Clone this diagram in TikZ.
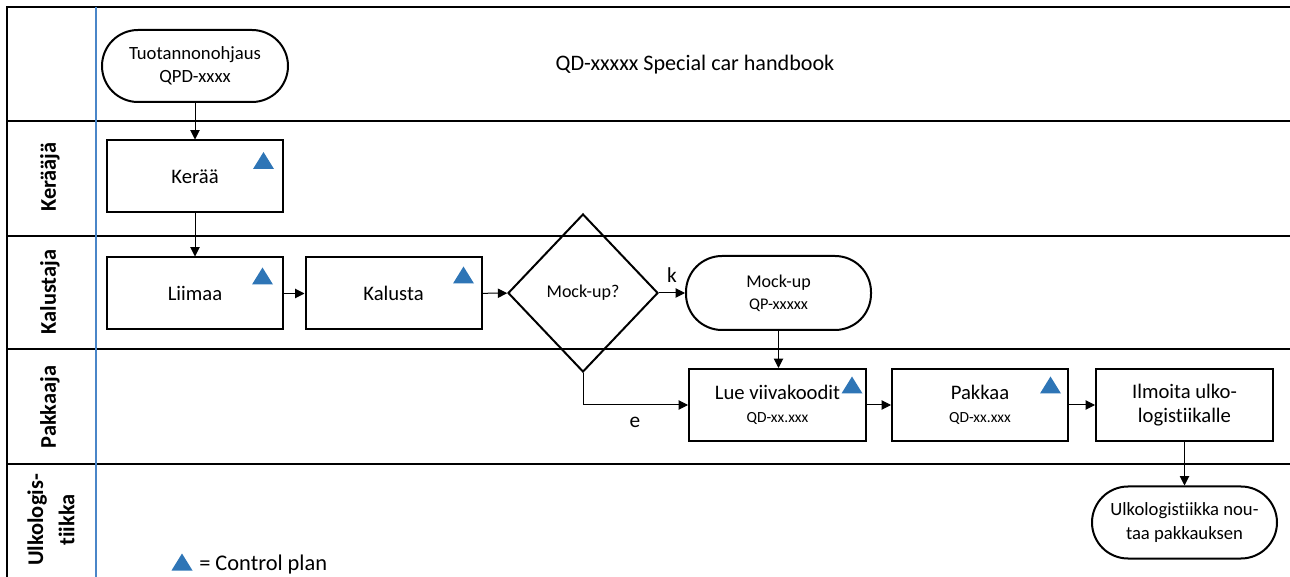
\documentclass[tikz,border=0pt]{standalone}
\usepackage{fontspec}
\setmainfont{Carlito}[Ligatures=NoCommon]
\usetikzlibrary{arrows.meta,shapes.geometric}
\definecolor{cpblue}{HTML}{2E75B6}
\definecolor{laneblue}{HTML}{4A86C8}
\newcommand{\fs}[1]{\fontsize{#1}{1.2\dimexpr#1pt\relax}\selectfont}
\begin{document}
\begin{tikzpicture}[x=0.75pt,y=-0.75pt,
  lane/.style={line width=1.8pt},
  box/.style={draw, line width=1.5pt, minimum width=132pt, minimum height=54pt, align=center, inner sep=0pt, font=\fs{15.5}},
  term/.style={box, minimum width=138.75pt, rounded corners=27pt},
  arr/.style={-{Triangle[length=7pt,width=7pt]}, line width=0.75pt},
  lanelabel/.style={rotate=90, font=\bfseries\fs{16.8}, align=center},
  cp/.pic={\fill[cpblue] (-10.5,8.5) -- (10.5,8.5) -- (0,-8.5) -- cycle;}
]
\useasboundingbox (0,0) rectangle (1290,577);
% lanes
\draw[lane] (7,577) -- (7,7) -- (1290,7);
\draw[lane] (7,121) -- (1290,121);
\draw[lane] (7,236) -- (1290,236);
\draw[lane] (7,349) -- (1290,349);
\draw[lane] (7,464) -- (1290,464);
\draw[laneblue, line width=0.9pt] (96,7) -- (96,577);
% lane labels
\node[lanelabel] (l1) at (50,177) {Kerääjä};
\node[lanelabel] (l2) at (50,292) {Kalustaja};
\node[lanelabel] (l3) at (50,407) {Pakkaaja};
\node[lanelabel, font=\bfseries\fontsize{16.8}{23.5}\selectfont] (l4) at (51,520) {Ulkologis-\\tiikka};
% title
\node[font=\fs{16.6}] (title) at (695,65) {QD-xxxxx Special car handbook};
% nodes
\node[term, minimum width=139.5pt, font=\fontsize{14}{17}\selectfont] (tuot) at (195,66) {Tuotannonohjaus\\QPD-xxxx};
\node[box] (keraa) at (195,176.5) {Kerää};
\node[box] (liimaa) at (195,293.5) {Liimaa};
\node[box] (kalusta) at (393.5,293.5) {Kalusta};
\node[diamond, draw, line width=1.5pt, minimum width=112.5pt, minimum height=118.5pt, inner sep=0pt, font=\fs{13.5}] (dia) at (583,293) {Mock-up?};
\node[term, minimum height=55.5pt, font=\fontsize{13.5}{16.5}\selectfont] (mock) at (778.5,293) {Mock-up\\{\fs{12.2}QP-xxxxx}};
\node[box, minimum width=132.75pt, font=\fontsize{15.5}{17.5}\selectfont] (lue) at (777.5,405) {Lue viivakoodit\\{\fs{11.6}QD-xx.xxx}};
\node[box, font=\fontsize{15.5}{17.5}\selectfont] (pakkaa) at (980,405) {Pakkaa\\{\fs{11.6}QD-xx.xxx}};
\node[box, minimum width=132.75pt, font=\fontsize{15.5}{17.5}\selectfont] (ilmoita) at (1184.5,405) {Ilmoita ulko-\\logistiikalle};
\node[term, font=\fontsize{14}{18}\selectfont] (ulko) at (1184.5,522.5) {Ulkologistiikka nou-\\taa pakkauksen};
% control plan triangles
\pic at (263.5,160.5) {cp};
\pic at (262.5,276) {cp};
\pic at (463.5,275) {cp};
\pic at (852,385) {cp};
\pic at (1050.5,385) {cp};
% connectors
\draw[arr] (tuot.south) -- (keraa.north);
\draw[arr] (keraa.south) -- (liimaa.north);
\draw[arr] (liimaa) -- (kalusta);
\draw[arr] (kalusta) -- (dia);
\draw[arr] (dia) -- (mock);
\draw[arr] (dia.south) |- (lue.west);
\draw[arr] (mock.south) -- (mock.south |- lue.north);
\draw[arr] (lue) -- (pakkaa);
\draw[arr] (pakkaa) -- (ilmoita);
\draw[arr] (ilmoita.south) -- (ilmoita.south |- ulko.north);
\node[font=\fs{16}] (k) at (672,275) {k};
\node[font=\fs{16}] (e) at (635,422) {e};
% legend
\pic at (182,562) {cp};
\node[anchor=west, font=\fs{16.8}, inner sep=0pt] (legend) at (199,565) {= Control plan};
\end{tikzpicture}
\end{document}
